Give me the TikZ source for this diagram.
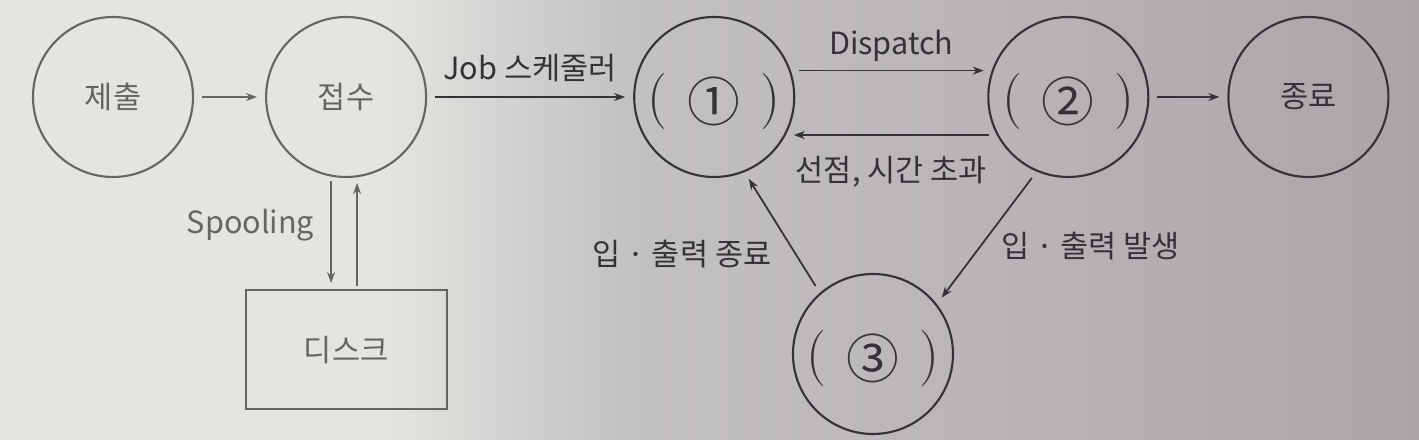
\documentclass[tikz,border=0pt]{standalone}
\usepackage{fontspec}
\setmainfont{Noto Sans CJK KR}
\newfontfamily\parfont{Latin Modern Roman}
\usepackage{xcolor}
\definecolor{ink}{RGB}{52,50,54}
\definecolor{inkfade}{RGB}{100,102,100}
\definecolor{paperL}{RGB}{227,230,224}
\definecolor{paperM}{RGB}{196,193,195}
\definecolor{paperR}{RGB}{170,165,169}
\usepackage{tikz}
\usetikzlibrary{arrows.meta,positioning,calc}
\tikzset{
  proc/.style={circle,draw=ink,minimum size=16mm,inner sep=0pt,line width=0.6pt,%
    text=ink,font=\fontsize{8.7}{10}\selectfont},
  store/.style={draw=inkfade,minimum width=20.1mm,minimum height=11.9mm,line width=0.6pt,%
    text=inkfade,font=\fontsize{8.7}{10}\selectfont},
  flow/.style={-{Stealth[length=1.1mm,width=0.8mm]},draw=ink,line width=0.5pt,%
    shorten <=0.8mm,shorten >=0.8mm},
  tag/.style={text=ink,font=\fontsize{8.7}{10}\selectfont,inner sep=1pt},
}
\newcommand\stlabel[1]{\smash{\raisebox{-1.9mm}{\fontsize{16}{16}\parfont(}%
  \hspace{2mm}\raisebox{-2.45mm}{\fontsize{15}{15}\selectfont#1}\hspace{2mm}%
  \raisebox{-1.9mm}{\fontsize{16}{16}\parfont)}}}

\begin{document}
\begin{tikzpicture}[node distance=7.1mm and 20.6mm]
\fill[paperL] (0,0) rectangle (3.85,-4.40);
\shade[left color=paperL,right color=paperM] (3.8,0) rectangle (6.25,-4.40);
\shade[left color=paperM,right color=paperR] (6.2,0) rectangle (14.19,-4.40);
\path[use as bounding box] (0,0) rectangle (14.19,-4.40);
\node[proc,draw=inkfade,text=inkfade] (sub) at (1.13,-0.97) {제출};
\node[proc,draw=inkfade,text=inkfade,right=7.1mm of sub] (rec) {접수};
\node[proc,right=20.6mm of rec] (s1) {\stlabel{①}};
\node[proc,right=19.2mm of s1] (s2) {\stlabel{②}};
\node[proc,right=7.8mm of s2] (fin) {종료};
\node[proc] (s3) at (8.73,-3.54) {\stlabel{③}};
\node[store,below=11.1mm of rec] (disk) {디스크};
\draw[flow,draw=inkfade] (sub) -- (rec);
\draw[flow] (rec) -- node[tag,above=1.1mm]{Job 스케줄러} (s1);
\draw[flow] (s1.19) -- node[tag,above=0.5mm]{Dispatch} (s2.161);
\draw[flow] (s2.208) -- node[tag,below=1.7mm]{선점, 시간 초과} (s1.332);
\draw[flow] (s2) -- (fin);
\draw[flow] (s2.247) -- node[tag,right=1.6mm,pos=0.56]{입 · 출력 발생} (s3.38);
\draw[flow] (s3.131) -- node[tag,left=2mm,pos=0.32]{입 · 출력 종료} (s1.292);
\draw[flow,draw=inkfade,shorten <=0.3mm,shorten >=0.6mm] ([xshift=-1.5mm]rec.south)
  -- node[tag,text=inkfade,left=1.25mm,pos=0.42]{Spooling} ([xshift=-1.5mm]disk.north);
\draw[flow,draw=inkfade,shorten <=0.3mm,shorten >=0.5mm] ([xshift=1.1mm]disk.north)
  -- ([xshift=1.1mm]rec.south);
\end{tikzpicture}
\end{document}
